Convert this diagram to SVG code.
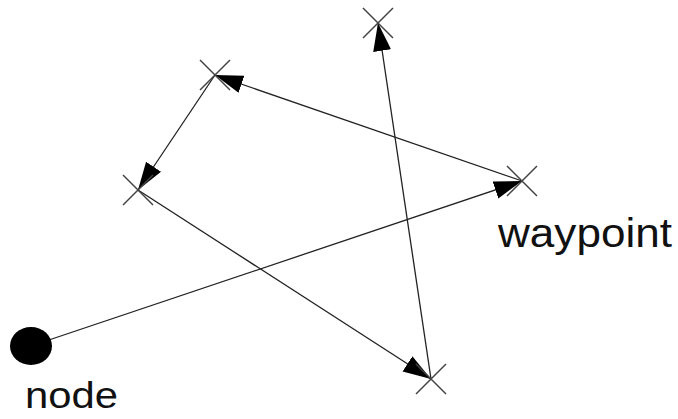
<svg xmlns="http://www.w3.org/2000/svg" width="678" height="419" viewBox="0 0 678 419">
<style>
.edge{stroke:#222;stroke-width:1.3;fill:none;marker-end:url(#arr)}
.cross{stroke:#444;stroke-width:1.5;fill:none}
.lbl{font-family:"Liberation Sans",Arial,sans-serif;fill:#111}
</style>
<defs>
<marker id="arr" markerUnits="userSpaceOnUse" markerWidth="30" markerHeight="20" refX="28" refY="9" orient="auto">
<path d="M0,0 L28,9 L0,18 z" fill="#000"/>
</marker>
<path id="x" d="M-15,-15 L15,15 M-15,15 L15,-15"/>
</defs>
<g id="connectors">
<line class="edge" x1="31" y1="346" x2="522" y2="181"/>
<line class="edge" x1="522" y1="181" x2="215" y2="75"/>
<line class="edge" x1="215" y1="75" x2="138" y2="190"/>
<line class="edge" x1="138" y1="190" x2="431" y2="379"/>
<line class="edge" x1="431" y1="379" x2="378" y2="23"/>
</g>
<g id="node">
<ellipse cx="31" cy="346" rx="21" ry="19" fill="#000"/>
<text class="lbl" x="25" y="408" font-size="36" textLength="93" lengthAdjust="spacingAndGlyphs">node</text>
</g>
<g id="wp1"><use href="#x" class="cross" x="522" y="181"/>
<text class="lbl" x="498" y="247" font-size="41" textLength="174" lengthAdjust="spacingAndGlyphs">waypoint</text></g>
<g id="wp2"><use href="#x" class="cross" x="215" y="75"/></g>
<g id="wp3"><use href="#x" class="cross" x="138" y="190"/></g>
<g id="wp4"><use href="#x" class="cross" x="431" y="379"/></g>
<g id="wp5"><use href="#x" class="cross" x="378" y="23"/></g>
</svg>
